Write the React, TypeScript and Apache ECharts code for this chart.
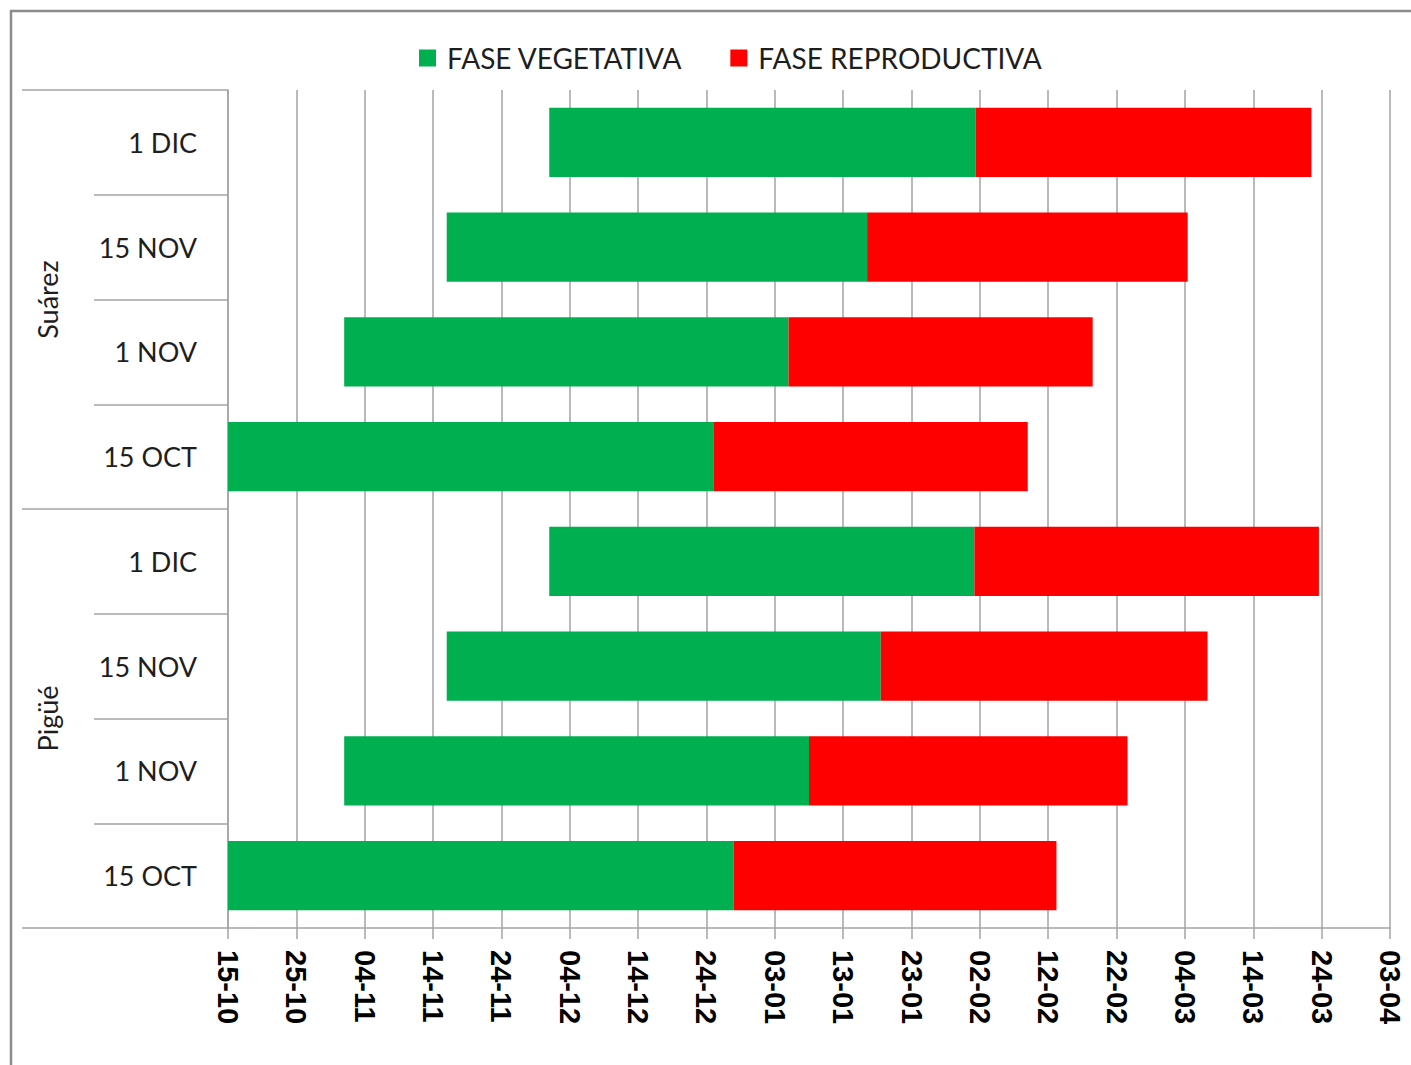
import React, { useEffect, useRef } from "react";
import * as echarts from "echarts";

// Localidades (grupos) y fechas de siembra (categorías), de arriba hacia abajo
const groups = ["Suárez", "Pigüé"];
const categories = ["1 DIC", "15 NOV", "1 NOV", "15 OCT", "1 DIC", "15 NOV", "1 NOV", "15 OCT"];

// Días desde el 15-10
const siembra = [47, 32, 17, 0, 47, 32, 17, 0];
const finVegetativa = [109.4, 93.5, 82, 71, 109.2, 95.5, 85, 74];
const finReproductiva = [158.5, 140.4, 126.5, 117, 159.6, 143.3, 131.6, 121.2];

const tickLabels = [
  "15-10", "25-10", "04-11", "14-11", "24-11", "04-12", "14-12", "24-12", "03-01",
  "13-01", "23-01", "02-02", "12-02", "22-02", "04-03", "14-03", "24-03", "03-04",
];
const tickStepDays = 10;

const seriesNames = ["FASE VEGETATIVA", "FASE REPRODUCTIVA"];
const seriesColors = ["#00B050", "#FF0000"];

const faseVegetativa = finVegetativa.map((v, i) => +(v - siembra[i]).toFixed(2));
const faseReproductiva = finReproductiva.map((v, i) => +(v - finVegetativa[i]).toFixed(2));

const gridGray = "#a3a3a3";
const textColor = "#1e1e1e";
const labelFont = "Lato, 'Open Sans', sans-serif";

export default function App() {
  const ref = useRef<HTMLDivElement>(null);

  useEffect(() => {
    if (!ref.current) return;
    const chart = echarts.init(ref.current, undefined, { renderer: "svg" });
    const option: any = {
      animation: false,
      backgroundColor: "#ffffff",
      graphic: [
        {
          type: "rect",
          silent: true,
          shape: { x: 11, y: 11, width: 1460, height: 1120 },
          style: { fill: "none", stroke: "#8c8c8c", lineWidth: 2.5 },
        },
      ],
      legend: {
        data: seriesNames,
        left: 414,
        top: 39,
        icon: "rect",
        itemWidth: 17,
        itemHeight: 17,
        itemGap: 48,
        selectedMode: false,
        textStyle: {
          fontFamily: labelFont,
          fontSize: 28,
          color: textColor,
          padding: [0, 0, 0, 6],
        },
      },
      grid: {
        left: 228,
        right: 21,
        top: 90,
        bottom: 137,
        containLabel: false,
        outerBoundsMode: "none",
      },
      xAxis: {
        type: "value",
        min: 0,
        max: (tickLabels.length - 1) * tickStepDays,
        interval: tickStepDays,
        axisLine: { show: true, lineStyle: { color: gridGray, width: 1.5 } },
        axisTick: { show: true, length: 11, lineStyle: { color: gridGray, width: 1.5 } },
        splitLine: { show: true, lineStyle: { color: gridGray, width: 1.5 } },
        axisLabel: {
          rotate: -90,
          margin: 22,
          fontFamily: "'Liberation Sans', Arial, sans-serif",
          fontWeight: "bold",
          fontSize: 29,
          color: "#000000",
          formatter: (v: number) => tickLabels[Math.round(v / tickStepDays)] ?? "",
        },
      },
      yAxis: [
        {
          type: "category",
          data: categories,
          inverse: true,
          axisLine: { show: true, lineStyle: { color: gridGray, width: 1.5 } },
          axisTick: { show: true, length: 134, lineStyle: { color: gridGray, width: 1.5 } },
          splitLine: { show: false },
          axisLabel: {
            margin: 31,
            fontFamily: labelFont,
            fontSize: 27,
            color: textColor,
          },
        },
        {
          type: "category",
          data: groups,
          inverse: true,
          position: "left",
          offset: 134,
          axisLine: { show: false },
          axisTick: { show: true, length: 72, lineStyle: { color: gridGray, width: 1.5 } },
          splitLine: { show: false },
          axisLabel: {
            rotate: 90,
            margin: 33,
            fontFamily: labelFont,
            fontSize: 27,
            color: textColor,
          },
        },
      ],
      series: [
        {
          name: "offset",
          type: "bar",
          stack: "fases",
          silent: true,
          barWidth: "66%",
          itemStyle: { color: "transparent" },
          emphasis: { disabled: true },
          data: siembra,
        },
        {
          name: seriesNames[0],
          type: "bar",
          stack: "fases",
          barWidth: "66%",
          itemStyle: { color: seriesColors[0] },
          data: faseVegetativa,
        },
        {
          name: seriesNames[1],
          type: "bar",
          stack: "fases",
          barWidth: "66%",
          itemStyle: { color: seriesColors[1] },
          data: faseReproductiva,
        },
      ],
    };
    chart.setOption(option);
    return () => chart.dispose();
  }, []);

  return (
    <div
      ref={ref}
      style={{ position: "fixed", left: 0, top: 0, width: 1411, height: 1065, background: "#fff" }}
    />
  );
}
